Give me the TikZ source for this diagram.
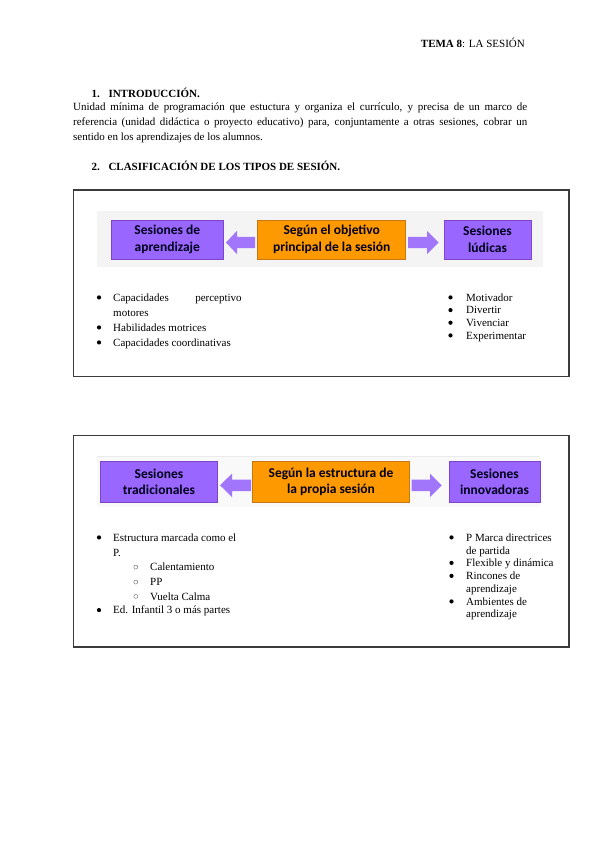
\documentclass[tikz,border=0pt]{standalone}
\usepackage{fontspec}
\setmainfont{Liberation Serif}
\newfontfamily\boxfont{Carlito}
\usetikzlibrary{calc}
\definecolor{purplefill}{RGB}{153,102,255}
\definecolor{purpleline}{RGB}{125,70,200}
\definecolor{orangefill}{RGB}{255,153,0}
\definecolor{orangeline}{RGB}{200,120,20}
\definecolor{arrowfill}{RGB}{162,118,250}
\definecolor{framegray}{RGB}{60,60,60}
\definecolor{panelgray}{RGB}{244,244,244}
\tikzset{
  txt/.style={anchor=base west, inner sep=0pt, font=\fontsize{11}{13}\selectfont},
  hd/.style={anchor=base west, inner sep=0pt, font=\bfseries\fontsize{11}{13}\selectfont},
  para/.style={anchor=base west, inner sep=0pt, font=\fontsize{11}{15}\selectfont},
  boxbase/.style={inner sep=0pt, align=center, text=black!90!blue, font=\boxfont\bfseries\fontsize{13.5}{16.6}\selectfont},
  purplebox/.style={boxbase, draw=purpleline, line width=0.9pt, fill=purplefill},
  orangebox/.style={boxbase, draw=orangeline, line width=0.9pt, fill=orangefill},
  frame/.style={draw=framegray, line width=1.4pt},
}
\newcommand{\bul}[2]{\fill (#1,#2-3.6) circle (2.1pt);}
\newcommand{\sbul}[2]{\draw[line width=0.4pt, black!60] (#1,#2-3.6) circle (2pt);}
\newcommand{\arrL}[4]{% tail, headbase, tip, y
  \fill[arrowfill] (#1,#4-5.7) -- (#2,#4-5.7) -- (#2,#4-11.7) -- (#3,#4) -- (#2,#4+11.7) -- (#2,#4+5.7) -- (#1,#4+5.7) -- cycle;}
\begin{document}
\begin{tikzpicture}[x=1pt,y=-1pt]
\useasboundingbox[fill=white] (0,0) rectangle (600,848);

% header
\node[txt, anchor=base east] (head) at (525,47.8) {\textbf{TEMA 8}: LA SESIÓN};

% section 1
\node[hd] (n1) at (91.5,97.8) {1.};
\node[hd] (s1) at (108.3,97.8) {INTRODUCCIÓN.};
\node[para] (p1) at (73,110.4) {\makebox[454pt][s]{Unidad mínima de programación que estuctura y organiza el currículo, y precisa de un marco de}};
\node[para] (p2) at (73,125.4) {\makebox[454pt][s]{referencia (unidad didáctica o proyecto educativo) para, conjuntamente a otras sesiones, cobrar un}};
\node[para] (p3) at (73,140.4) {sentido en los aprendizajes de los alumnos.};

% section 2
\node[hd] (n2) at (91.5,170.4) {2.};
\node[hd] (s2) at (108.3,170.4) {CLASIFICACIÓN DE LOS TIPOS DE SESIÓN.};

% ---------- frame 1 ----------
\draw[frame] (73.3,190) rectangle (569,376.5);
\fill[panelgray] (96.7,211) rectangle (542.7,266.7);
\node[purplebox, minimum width=112pt, minimum height=39pt] (a1) at (167.3,239.5) {Sesiones de\\aprendizaje};
\node[orangebox, minimum width=148pt, minimum height=39pt] (c1) at (331.7,239.5) {Según el objetivo\\principal de la sesión};
\node[purplebox, minimum width=87pt, minimum height=39pt] (b1) at (487.5,239.5) {Sesiones\\lúdicas};
\arrL{255}{237}{226}{242.5}
\arrL{408}{427}{438.5}{242.5}

% left list 1
\bul{99}{301}
\node[txt] (l11) at (113,301) {\makebox[128.5pt][s]{Capacidades perceptivo}};
\node[txt] (l12) at (113,316) {motores};
\bul{99}{331}
\node[txt] (l13) at (113,331) {Habilidades motrices};
\bul{99}{346}
\node[txt] (l14) at (113,346) {Capacidades coordinativas};

% right list 1
\bul{450.5}{301}
\node[txt] (r11) at (466,301) {Motivador};
\bul{450.5}{313.7}
\node[txt] (r12) at (466,313.7) {Divertir};
\bul{450.5}{326.3}
\node[txt] (r13) at (466,326.3) {Vivenciar};
\bul{450.5}{339}
\node[txt] (r14) at (466,339) {Experimentar};

% ---------- frame 2 ----------
\draw[frame] (73.3,435.7) rectangle (569,647);
\fill[panelgray!50] (97,456.5) rectangle (540,507);
\draw[black!8, line width=0.5pt] (97,456.5) -- (540,456.5);
\node[purplebox, minimum width=116.5pt, minimum height=40.3pt] (a2) at (158.9,481.9) {Sesiones\\tradicionales};
\node[orangebox, minimum width=156.5pt, minimum height=40.3pt] (c2) at (331,481.9) {Según la estructura de\\la propia sesión};
\node[purplebox, minimum width=91pt, minimum height=40.3pt] (b2) at (494.5,481.9) {Sesiones\\innovadoras};
\arrL{251}{232}{220}{485.3}
\arrL{411.7}{430}{441.7}{485.3}

% left list 2
\bul{99}{541}
\node[txt] (l21) at (113,541) {Estructura marcada como el};
\node[txt] (l22) at (113,556) {P.};
\sbul{135.8}{570.7}
\node[txt] (l23) at (150,570.7) {Calentamiento};
\sbul{135.8}{585.7}
\node[txt] (l24) at (150,585.7) {PP};
\sbul{135.8}{600}
\node[txt] (l25) at (150,600) {Vuelta Calma};
\bul{99}{613.7}
\node[txt] (l26) at (113,613.7) {Ed. Infantil 3 o más partes};

% right list 2
\bul{451.5}{541}
\node[txt] (r21) at (466,541) {P Marca directrices};
\node[txt] (r22) at (466,554.3) {de partida};
\bul{451.5}{566.5}
\node[txt] (r23) at (466,566.5) {Flexible y dinámica};
\bul{451.5}{579.5}
\node[txt] (r24) at (466,579.5) {Rincones de};
\node[txt] (r25) at (466,592) {aprendizaje};
\bul{451.5}{605}
\node[txt] (r26) at (466,605) {Ambientes de};
\node[txt] (r27) at (466,617.5) {aprendizaje};
\end{tikzpicture}
\end{document}
